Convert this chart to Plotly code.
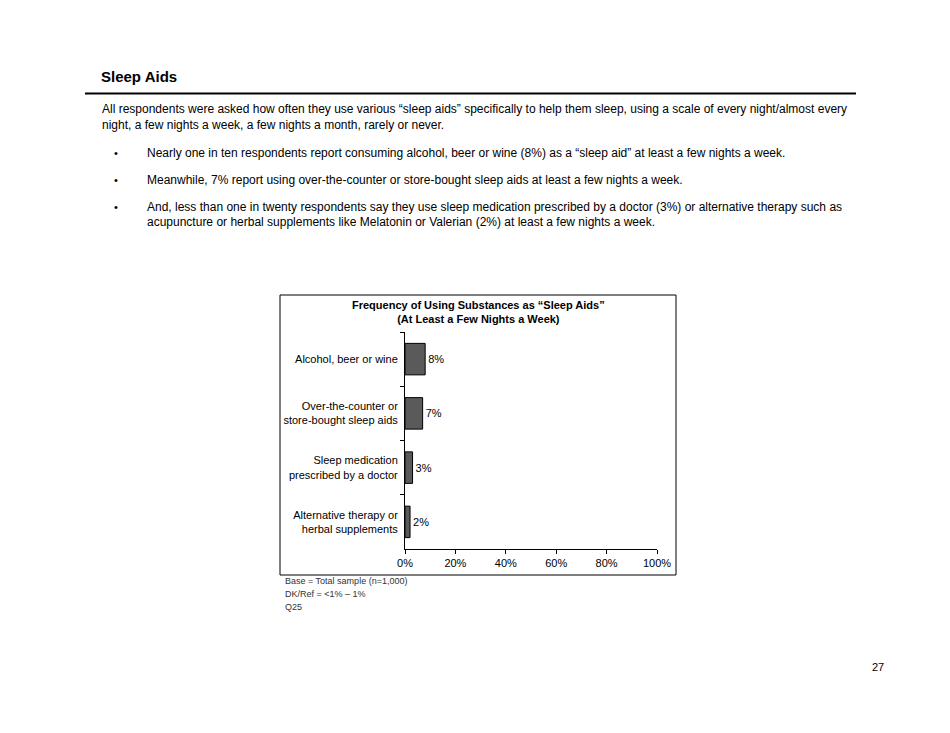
import plotly.graph_objects as go

# page is drawn inside the 8px body margin so it fits the window exactly
PAGE_W, PAGE_H = 950, 733
OFF = 8
W, H = PAGE_W - 2 * OFF, PAGE_H - 2 * OFF

# chart data
categories = ["Alcohol, beer or wine",
              "Over-the-counter or<br>store-bought sleep aids",
              "Sleep medication<br>prescribed by a doctor",
              "Alternative therapy or<br>herbal supplements"]
values = [8, 7, 3, 2]
value_labels = ["8%", "7%", "3%", "2%"]
x_ticks = [0, 20, 40, 60, 80, 100]
x_tick_labels = ["0%", "20%", "40%", "60%", "80%", "100%"]

chart_title = "<b>Frequency of Using Substances as \u201cSleep Aids\u201d<br>(At Least a Few Nights a Week)</b>"
footnotes = ["Base = Total sample (n=1,000)", "DK/Ref = <1% \u2013 1%", "Q25"]

page_title = "Sleep Aids"
intro = ["All respondents were asked how often they use various \u201csleep aids\u201d specifically to help them sleep, using a scale of every night/almost every",
         "night, a few nights a week, a few nights a month, rarely or never."]
bullets = [
    ["Nearly one in ten respondents report consuming alcohol, beer or wine (8%) as a \u201csleep aid\u201d at least a few nights a week."],
    ["Meanwhile, 7% report using over-the-counter or store-bought sleep aids at least a few nights a week."],
    ["And, less than one in twenty respondents say they use sleep medication prescribed by a doctor (3%) or alternative therapy such as",
     "acupuncture or herbal supplements like Melatonin or Valerian (2%) at least a few nights a week."],
]
bullet_rows = [153, 180, 207]
page_number = "27"

FONT = "Liberation Sans, Arial, sans-serif"


def px(x):
    return (x - OFF) / W


def py(y):
    return 1 - (y - OFF) / H


fig = go.Figure(go.Bar(
    x=values,
    y=categories,
    orientation="h",
    marker=dict(color="#5a5a5a", line=dict(color="#000000", width=1)),
    text=value_labels,
    textposition="outside",
    textfont=dict(size=11, color="#000000", family=FONT),
    cliponaxis=False,
    width=0.58,
))

annotations = []


def note(x, y, text, size=12, bold=False, anchor="left", color="#000000"):
    annotations.append(dict(
        x=px(x), y=py(y), xref="paper", yref="paper", xanchor=anchor, yanchor="middle",
        text=f"<b>{text}</b>" if bold else text, showarrow=False,
        font=dict(size=size, color=color, family=FONT)))


note(99, 77, page_title, size=15, bold=True)
for i, line in enumerate(intro):
    note(100, 109 + 16 * i, line)
for row, lines in zip(bullet_rows, bullets):
    note(112, row, "\u2022", size=11)
    for j, line in enumerate(lines):
        note(145, row + 15 * j, line)

annotations.append(dict(
    x=px(478), y=py(312), xref="paper", yref="paper", xanchor="center", yanchor="middle",
    text=chart_title, showarrow=False, align="center",
    font=dict(size=11, color="#000000", family=FONT)))

for i, line in enumerate(footnotes):
    note(283, 581 + 13 * i, line, size=9, color="#333333")

note(886, 667, page_number, size=11, anchor="right")

fig.update_layout(
    width=W, height=H,
    margin=dict(l=0, r=0, t=0, b=0),
    paper_bgcolor="white", plot_bgcolor="white",
    showlegend=False,
    bargap=0.42,
    font=dict(family=FONT, color="#000000"),
    annotations=annotations,
    shapes=[
        dict(type="line", xref="paper", yref="paper", x0=px(85), x1=px(856),
             y0=py(93.5), y1=py(93.5), line=dict(color="#000000", width=2)),
        dict(type="rect", xref="paper", yref="paper", x0=px(280), x1=px(676),
             y0=py(295), y1=py(575), line=dict(color="#000000", width=1)),
    ],
    xaxis=dict(
        domain=[px(405), px(657)], range=[0, 100],
        tickvals=x_ticks, ticktext=x_tick_labels,
        ticks="outside", ticklen=4, tickcolor="#000000",
        showline=True, linecolor="#000000", linewidth=1,
        showgrid=False, zeroline=False, automargin=False,
        tickfont=dict(size=11, color="#000000", family=FONT),
        anchor="y",
    ),
    yaxis=dict(
        domain=[py(549), py(332)],
        autorange="reversed",
        tickson="boundaries",
        ticks="outside", ticklen=4, tickcolor="#000000",
        showline=True, linecolor="#000000", linewidth=1,
        showgrid=False, zeroline=False, automargin=False,
        ticklabelstandoff=4,
        tickfont=dict(size=11, color="#000000", family=FONT),
    ),
)

fig.write_html("out.html")
